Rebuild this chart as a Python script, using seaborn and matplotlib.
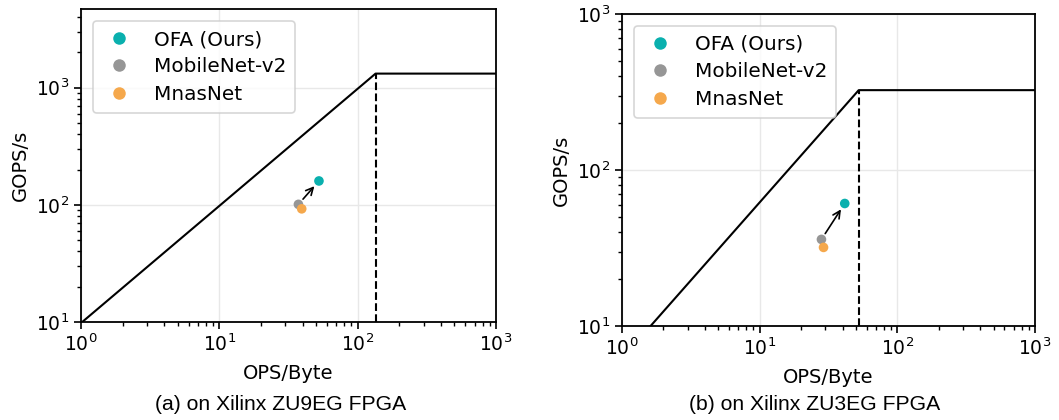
import seaborn as sns
import matplotlib.pyplot as plt
import pandas as pd

# roofline parameters (GOPS/s peak, GB/s bandwidth)
boards = ["ZU9EG", "ZU3EG"]
peak_gops = [1320, 325]
bandwidth = [9.8, 6.2]
y_top = [4700, 1000]

models = ["OFA (Ours)", "MobileNet-v2", "MnasNet"]
# (OPS/Byte, GOPS/s) per board
zu9_ops_byte = [52.5, 37.3, 39.4]
zu9_gops = [160, 101, 92.5]
zu3_ops_byte = [41.5, 28.1, 29.1]
zu3_gops = [61, 35.9, 31.9]

titles = ["(a) on Xilinx ZU9EG FPGA", "(b) on Xilinx ZU3EG FPGA"]
palette = {"OFA (Ours)": "#0AB0AE", "MobileNet-v2": "#969696", "MnasNet": "#F5A84C"}

sns.set_style("ticks")
plt.rcParams['font.family'] = ['DejaVu Sans']
for k in ["text.color", "axes.labelcolor", "xtick.color", "ytick.color", "axes.edgecolor"]:
    plt.rcParams[k] = "black"

fig = plt.figure(figsize=(10.59, 4.2), dpi=100)
W, H = 1059, 420
boxes = [(81, 9, 496, 322), (622, 14, 1035, 326)]
title_x = [281, 815]

pts = [(zu9_ops_byte, zu9_gops), (zu3_ops_byte, zu3_gops)]

for i in range(2):
    l, t, r, b = boxes[i]
    ax = fig.add_axes([l / W, (H - b) / H, (r - l) / W, (b - t) / H])
    ax.set_xscale("log")
    ax.set_yscale("log")

    ridge = peak_gops[i] / bandwidth[i]
    roof = pd.DataFrame({"x": [1, ridge, 1000],
                         "y": [bandwidth[i], peak_gops[i], peak_gops[i]]})
    sns.lineplot(data=roof, x="x", y="y", color="black", lw=1.5, ax=ax,
                 estimator=None, sort=False)
    ax.plot([ridge, ridge], [10, peak_gops[i]], color="black", lw=1.5, ls="--")

    df = pd.DataFrame({"model": models, "x": pts[i][0], "y": pts[i][1]})
    sns.scatterplot(data=df, x="x", y="y", hue="model", palette=palette,
                    s=48, edgecolor="none", ax=ax, zorder=3)

    # arrow MobileNet-v2 -> OFA
    ax.annotate("", xy=(df.x[0], df.y[0]), xytext=(df.x[1], df.y[1]),
                arrowprops=dict(arrowstyle="->", color="black", lw=1.2,
                                shrinkA=5, shrinkB=5, mutation_scale=13))

    ax.set_xlim(1, 1000)
    ax.set_ylim(10, y_top[i])
    ax.grid(True, which="major", color="#e8e8e8", lw=1)
    ax.set_axisbelow(True)
    ax.tick_params(labelsize=13.5, width=1.2, length=5)
    ax.tick_params(which="minor", width=1, length=3)
    for sp in ax.spines.values():
        sp.set_linewidth(1.3)
    ax.set_xlabel("OPS/Byte", fontsize=14, labelpad=6)
    ax.set_ylabel("GOPS/s", fontsize=14, labelpad=4)

    leg = ax.legend(loc="upper left", fontsize=14.4, markerscale=1.3,
                    handletextpad=0.9, handlelength=1.7, borderpad=0.45,
                    labelspacing=0.42, borderaxespad=0.6, title=None)
    leg.get_frame().set_linewidth(1.2)
    leg.set_zorder(5)

    fig.text(title_x[i] / W, 1 - 410 / H, titles[i], ha="center",
             va="baseline", fontsize=15.2, family="Liberation Sans")

fig.savefig("out.png", dpi=100)
